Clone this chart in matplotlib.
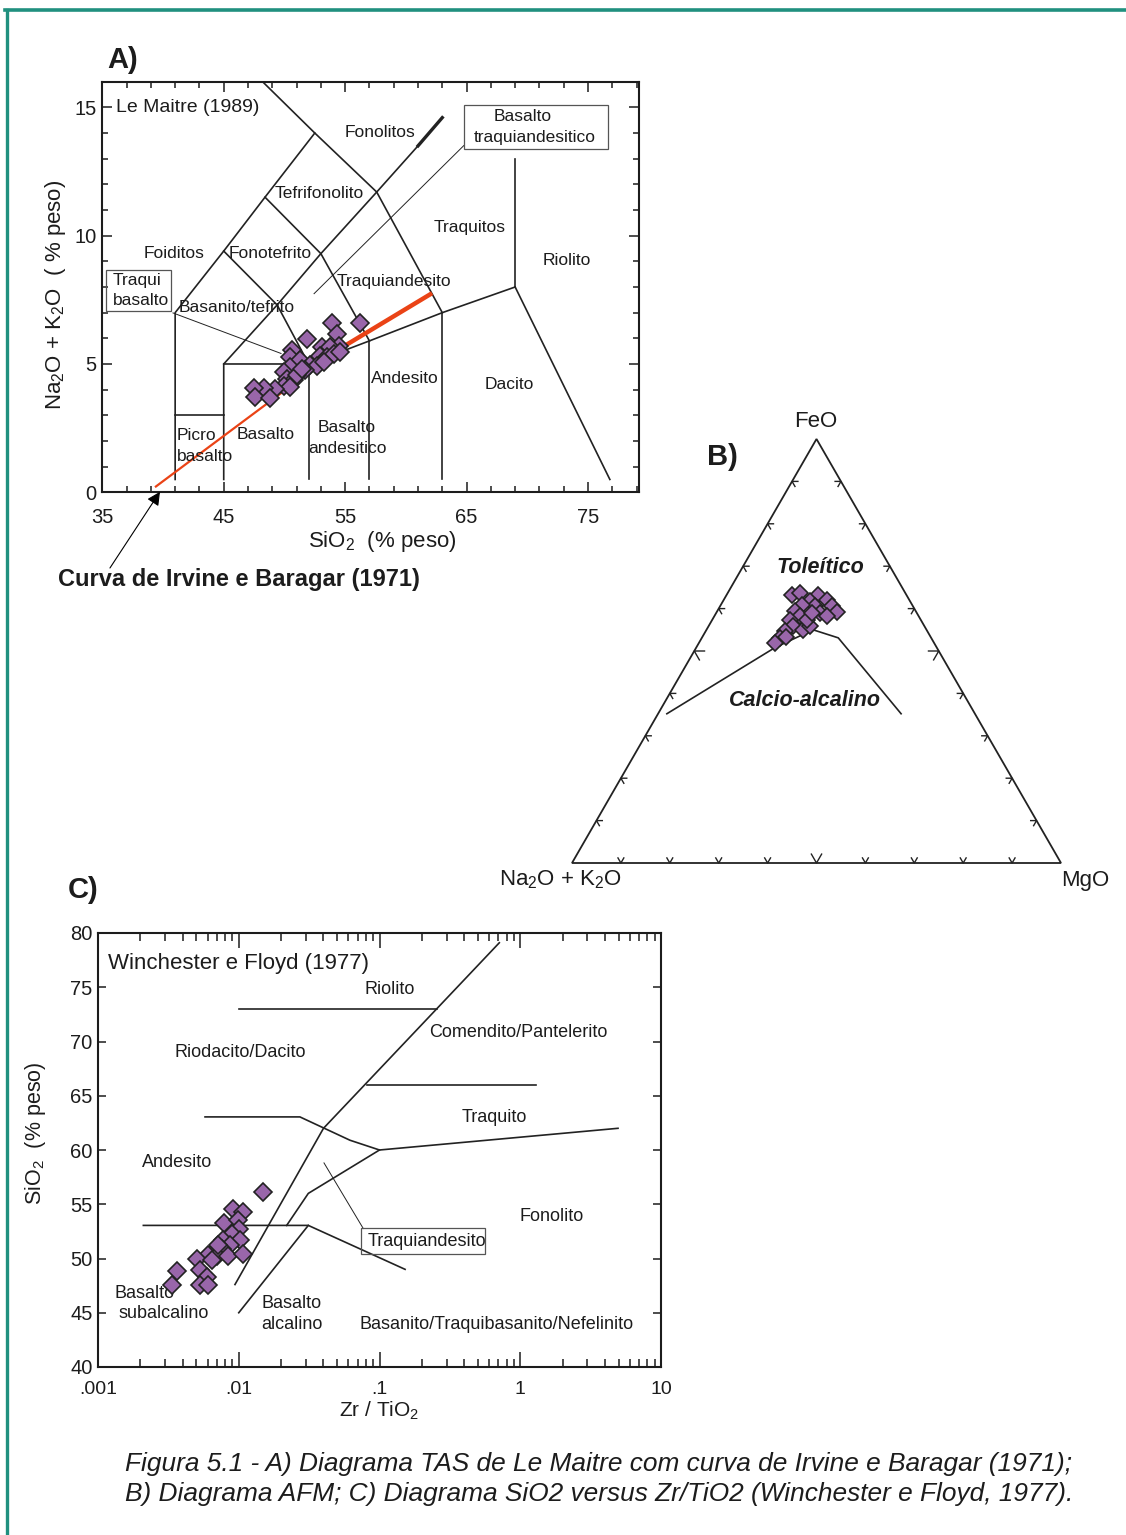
import numpy as np
import matplotlib
matplotlib.use("Agg")
import matplotlib.pyplot as plt
from matplotlib.lines import Line2D
from matplotlib.patches import Rectangle, Polygon
from matplotlib.ticker import LogLocator, NullFormatter, FixedLocator

plt.rcParams['font.family'] = ['Liberation Sans', 'DejaVu Sans']
plt.rcParams['mathtext.fontset'] = 'custom'
plt.rcParams['mathtext.rm'] = 'Liberation Sans'
plt.rcParams['mathtext.it'] = 'Liberation Sans:italic'
plt.rcParams['mathtext.bf'] = 'Liberation Sans:bold'

# ---------------- A) TAS diagram (Le Maitre 1989) ----------------
tas_sio2 = [53.9, 56.25, 51.86, 54.33, 54.46, 53.10, 53.72, 50.63, 50.43, 51.31,
            52.13, 52.96, 53.51, 54.05, 54.60, 52.69, 53.23, 51.72, 50.49, 49.93,
            50.21, 50.76, 49.93, 50.49, 49.25, 48.29, 47.46, 47.60, 48.78, 51.06, 51.47]
tas_alk = [6.59, 6.59, 5.98, 6.18, 5.72, 5.65, 5.65, 5.55, 5.26, 5.14,
           4.98, 5.33, 5.26, 5.40, 5.46, 4.94, 5.07, 4.75, 4.88, 4.68,
           4.42, 4.36, 4.16, 4.10, 4.04, 4.07, 4.07, 3.71, 3.68, 4.59, 4.82]

tas_fields = [
    [(41, 0.5), (41, 7), (45, 9.4), (48.4, 11.5), (52.5, 14), (48.2, 16)],
    [(41, 3), (45, 3)],
    [(45, 0.5), (45, 5), (49.4, 7.3), (53, 9.3), (57.6, 11.7), (61, 13.5)],
    [(45, 5), (52, 5), (57, 5.9), (63, 7), (69, 8)],
    [(52, 0.5), (52, 5)],
    [(57, 0.5), (57, 5.9)],
    [(63, 0.5), (63, 7)],
    [(45, 9.4), (49.4, 7.3), (52, 5)],
    [(48.4, 11.5), (53, 9.3), (57, 5.9)],
    [(52.5, 14), (57.6, 11.7), (63, 7)],
    [(69, 8), (69, 13)],
    [(69, 8), (76.8, 0.5)],
]
tas_heavy = [(61, 13.5), (63, 14.6)]

# Irvine & Baragar (1971) alkaline / subalkaline divide
ib_sio2 = [39.34, 54.9, 62.16]
ib_alk = [0.2, 5.69, 7.76]

tas_names = [
    ("Fonolitos", 57.88, 14.03), ("Tefrifonolito", 52.85, 11.66),
    ("Traquitos", 65.26, 10.33), ("Foiditos", 40.89, 9.30),
    ("Fonotefrito", 48.80, 9.30), ("Riolito", 73.22, 9.04),
    ("Traquiandesito", 58.98, 8.22), ("Basanito/tefrito", 46.08, 7.22),
    ("Andesito", 59.89, 4.44), ("Dacito", 68.49, 4.20),
    ("Basalto", 48.43, 2.26), ("Basalto", 55.16, 2.51), ("andesitico", 55.16, 1.71),
]

# ---------------- B) AFM diagram ----------------
afm_A = [23.4, 21.5, 18.0, 16.9, 16.6, 16.2, 20.5, 20.1, 22.6, 24.7, 24.3, 26.7,
         26.9, 29.1, 30.9, 32.6, 25.2, 23.4, 19.8, 18.8, 23.3, 21.4, 29.6]
afm_F = [63.3, 63.7, 63.3, 62.1, 60.5, 59.3, 61.7, 60.5, 60.9, 59.3, 58.2, 57.4,
         55.8, 54.6, 53.1, 51.9, 55.0, 55.8, 59.0, 58.2, 57.4, 59.0, 53.4]
afm_M = [13.3, 14.8, 18.7, 21.0, 22.9, 24.5, 17.8, 19.4, 16.5, 15.9, 17.6, 15.9,
         17.3, 16.3, 16.0, 15.6, 19.8, 20.8, 21.2, 23.0, 19.3, 19.6, 17.1]

ib_afm_A = [63.0, 33.1, 23.2, 19.0, 15.1]
ib_afm_F = [35.2, 50.8, 55.0, 53.1, 35.2]
ib_afm_M = [1.8, 16.1, 21.8, 27.9, 49.7]

# ---------------- C) SiO2 vs Zr/TiO2 (Winchester & Floyd 1977) ----------------
wf_zr_tio2 = [0.01494, 0.00906, 0.01077, 0.00785, 0.00993, 0.01009, 0.00891, 0.00777,
              0.01021, 0.00867, 0.00757, 0.00659, 0.00608, 0.00503, 0.00697, 0.00843,
              0.01067, 0.00531, 0.00592, 0.00531, 0.00362, 0.00334, 0.00608, 0.00642,
              0.00716]
wf_sio2 = [56.13, 54.60, 54.29, 53.27, 53.52, 52.76, 52.30, 51.68, 51.68, 51.22,
           50.91, 50.60, 50.30, 49.99, 50.20, 50.20, 50.39, 48.91, 48.29, 47.53,
           48.85, 47.53, 47.53, 49.83, 51.22]

wf_fields = [
    [(0.01, 73), (0.256, 73)],
    [(0.0094, 47.6), (0.04, 62), (0.71, 79.1)],
    [(0.0815, 66), (1.29, 66)],
    [(0.00576, 63.05), (0.0272, 63.05), (0.0617, 60.9), (0.1, 60), (4.95, 62)],
    [(0.0021, 53.05), (0.0312, 53.05), (0.152, 49)],
    [(0.01, 45), (0.0312, 53.05)],
    [(0.0219, 53.05), (0.0312, 56), (0.1, 60)],
]
wf_names = [
    ("Riolito", 0.1187, 74.83), ("Comendito/Pantelerito", 0.9638, 70.87),
    ("Riodacito/Dacito", 0.01021, 69.02), ("Traquito", 0.651, 63.03),
    ("Andesito", 0.00364, 58.87), ("Fonolito", 1.681, 53.89),
    ("Basalto", 0.002157, 46.79), ("subalcalino", 0.002943, 44.94),
    ("Basalto", 0.0239, 45.87), ("alcalino", 0.0239, 43.93),
    ("Basanito/Traquibasanito/Nefelinito", 0.6838, 43.93),
]
wf_ticks = [0.001, 0.01, 0.1, 1, 10]
wf_ticklabels = [".001", ".01", ".1", "1", "10"]

# ---------------- styling ----------------
INK = "#1c1c1c"
FILL = "#9966aa"
LINE = "#222222"
W, H = 1126, 1535

fig = plt.figure(figsize=(W / 100, H / 100), dpi=100)


def box(l, t, r, b):
    return [l / W, 1 - b / H, (r - l) / W, (b - t) / H]


def ftext(px, py, s, **kw):
    fig.text(px / W, 1 - py / H, s, color=INK, **kw)


# page frame
fig.add_artist(Line2D([5 / W, 1], [1 - 9.5 / H] * 2, color="#20907f", lw=2.6))
fig.add_artist(Line2D([7 / W] * 2, [0, 1 - 9.5 / H], color="#20907f", lw=2.4))

# ======================= panel A =======================
axA = fig.add_axes(box(102.3, 81.7, 639, 492.3))
axA.set_xlim(35, 79.2)
axA.set_ylim(0, 16)
for seg in tas_fields:
    xs, ys = zip(*seg)
    axA.plot(xs, ys, color=LINE, lw=1.2, zorder=2, solid_joinstyle="miter")
xs, ys = zip(*tas_heavy)
axA.plot(xs, ys, color=LINE, lw=2.4, zorder=2)
axA.plot(ib_sio2[:2], ib_alk[:2], color="#ea4316", lw=1.6, zorder=3, solid_capstyle="butt")
axA.plot(ib_sio2[1:], ib_alk[1:], color="#ea4316", lw=3.2, zorder=3, solid_capstyle="butt")
axA.plot(tas_sio2, tas_alk, ls="none", marker="D", ms=9.6, mfc=FILL, mec=LINE, mew=1.2, zorder=4)

for name, x, y in tas_names:
    axA.text(x, y, name, ha="center", va="center", fontsize=12.5, color=INK, zorder=5)
axA.text(41.12, 2.20, "Picro", ha="left", va="center", fontsize=12.5, color=INK)
axA.text(41.12, 1.39, "basalto", ha="left", va="center", fontsize=12.5, color=INK)
axA.text(36.10, 14.98, "Le Maitre (1989)", ha="left", va="center", fontsize=14, color=INK)

axA.add_patch(Rectangle((35.33, 7.07), 5.35, 1.58, fill=False, ec="#555555", lw=0.9, zorder=5))
axA.text(35.88, 8.27, "Traqui", ha="left", va="center", fontsize=12.5, color=INK)
axA.text(35.88, 7.47, "basalto", ha="left", va="center", fontsize=12.5, color=INK)
axA.plot([40.82, 49.72], [6.99, 5.41], color=LINE, lw=0.7, zorder=2)

axA.add_patch(Rectangle((64.77, 13.36), 11.89, 1.75, fill=False, ec="#555555", lw=0.9, zorder=5))
axA.text(69.64, 14.65, "Basalto", ha="center", va="center", fontsize=12.5, color=INK)
axA.text(70.64, 13.84, "traquiandesitico", ha="center", va="center", fontsize=12.5, color=INK)
axA.plot([64.77, 52.44], [13.51, 7.74], color=LINE, lw=0.7, zorder=2)

axA.annotate("", xy=(39.75, 0.02), xytext=(35.63, -2.95), annotation_clip=False,
             arrowprops=dict(arrowstyle="-|>", color="black", lw=0.8, mutation_scale=20,
                             shrinkA=0, shrinkB=0))

axA.set_xticks([35, 45, 55, 65, 75])
axA.xaxis.set_minor_locator(FixedLocator(np.arange(37, 80, 2)))
axA.set_yticks([0, 5, 10, 15])
axA.yaxis.set_minor_locator(FixedLocator(np.arange(0, 16.5, 1)))
axA.tick_params(which="both", direction="in", top=True, right=True, width=1.1, colors=INK)
axA.tick_params(which="major", length=7, labelsize=14.5)
axA.tick_params(which="minor", length=4.5)
axA.tick_params(axis="x", pad=11)
axA.tick_params(axis="y", pad=4)
for sp in axA.spines.values():
    sp.set_linewidth(1.5)
    sp.set_color(INK)

ftext(123, 60, "A)", fontsize=21, fontweight="bold", ha="center", va="center")
ftext(382, 542, r"SiO$_2$  (% peso)", fontsize=16, ha="center", va="center")
ftext(55, 295, r"Na$_2$O + K$_2$O  ( % peso)", fontsize=16, ha="center", va="center", rotation=90)
ftext(58, 580, "Curva de Irvine e Baragar (1971)", fontsize=17, fontweight="bold",
      ha="left", va="center")

# ======================= panel B =======================
R3 = np.sqrt(3) / 2


def tern_xy(a, f, m):
    a, f, m = (np.asarray(v, float) for v in (a, f, m))
    s = a + f + m
    return (m + f / 2) / s, (f / s) * R3


axB = fig.add_axes(box(572, 439, 1061, 863))
axB.set_xlim(0, 1)
axB.set_ylim(0, R3)
axB.axis("off")
axB.add_patch(Polygon([(0, 0), (1, 0), (0.5, R3)], closed=True, fill=False, ec=LINE, lw=1.3,
                      joinstyle="miter", clip_on=False))

for i in range(1, 10):
    t = i / 10
    L = 0.021 if i == 5 else 0.012
    for (px, py), d1, d2 in [
        ((t, 0), (-0.5, R3), (0.5, R3)),
        ((t / 2, t * R3), (1, 0), (0.5, -R3)),
        ((1 - t / 2, t * R3), (-1, 0), (-0.5, -R3)),
    ]:
        axB.plot([px + L * d1[0], px, px + L * d2[0]], [py + L * d1[1], py, py + L * d2[1]],
                 color=LINE, lw=1.0, clip_on=False)

cx, cy = tern_xy(ib_afm_A, ib_afm_F, ib_afm_M)
axB.plot(cx, cy, color=LINE, lw=1.2, zorder=2)
bx, by = tern_xy(afm_A, afm_F, afm_M)
axB.plot(bx, by, ls="none", marker="D", ms=8.6, mfc=FILL, mec=LINE, mew=1.2, zorder=4,
         clip_on=False)

axB.text(0.499, 0.9018, "FeO", ha="center", va="center", fontsize=16, color=INK)
axB.text(-0.0225, -0.0348, r"Na$_2$O + K$_2$O", ha="center", va="center", fontsize=16, color=INK)
axB.text(1.049, -0.0348, "MgO", ha="center", va="center", fontsize=16, color=INK)
axB.text(0.5072, 0.6033, "Toleítico", ha="center", va="center", fontsize=15.5,
         fontweight="bold", style="italic", color=INK)
axB.text(0.4765, 0.3313, "Calcio-alcalino", ha="center", va="center", fontsize=15.5,
         fontweight="bold", style="italic", color=INK)
ftext(722, 457, "B)", fontsize=21, fontweight="bold", ha="center", va="center")

# ======================= panel C =======================
axC = fig.add_axes(box(98, 933, 661, 1367))
axC.set_xscale("log")
axC.set_xlim(0.001, 10)
axC.set_ylim(40, 80)
for seg in wf_fields:
    xs, ys = zip(*seg)
    axC.plot(xs, ys, color=LINE, lw=1.2, zorder=2)
axC.plot([0.04033, 0.0767], [58.81, 52.76], color=LINE, lw=0.7, zorder=2)
axC.plot(wf_zr_tio2, wf_sio2, ls="none", marker="D", ms=9.6, mfc=FILL, mec=LINE, mew=1.2, zorder=4)

for name, x, y in wf_names:
    axC.text(x, y, name, ha="center", va="center", fontsize=13, color=INK)
axC.text(0.001178, 77.23, "Winchester e Floyd (1977)", ha="left", va="center", fontsize=16,
         color=INK)
axC.add_patch(Rectangle((0.0739, 50.39), 0.5617 - 0.0739, 52.79 - 50.39, fill=False,
                        ec="#555555", lw=0.9, zorder=3))
axC.text(0.2176, 51.59, "Traquiandesito", ha="center", va="center", fontsize=13, color=INK)

axC.set_xticks(wf_ticks)
axC.set_xticklabels(wf_ticklabels)
axC.xaxis.set_minor_locator(LogLocator(base=10, subs=np.arange(2, 10)))
axC.xaxis.set_minor_formatter(NullFormatter())
axC.set_yticks(np.arange(40, 81, 5))
axC.tick_params(which="both", direction="in", top=True, right=True, width=1.1, colors=INK)
axC.tick_params(axis="x", which="major", length=11, labelsize=14, pad=10)
axC.tick_params(axis="x", which="minor", length=6)
axC.tick_params(axis="y", which="major", length=6, labelsize=14.5, pad=4)
for sp in axC.spines.values():
    sp.set_linewidth(1.5)
    sp.set_color(INK)

ftext(83, 890, "C)", fontsize=21, fontweight="bold", ha="center", va="center")
ftext(379, 1411, r"Zr / TiO$_2$", fontsize=15, ha="center", va="center")
ftext(36, 1133, r"SiO$_2$  (% peso)", fontsize=15.5, ha="center", va="center", rotation=90)

# ======================= caption =======================
ftext(125, 1464, "Figura 5.1 - A) Diagrama TAS de Le Maitre com curva de Irvine e Baragar (1971);",
      fontsize=18.9, style="italic", ha="left", va="center")
ftext(125, 1494, "B) Diagrama AFM; C) Diagrama SiO2 versus Zr/TiO2 (Winchester e Floyd, 1977).",
      fontsize=18.9, style="italic", ha="left", va="center")

fig.savefig("out.png", dpi=100)
